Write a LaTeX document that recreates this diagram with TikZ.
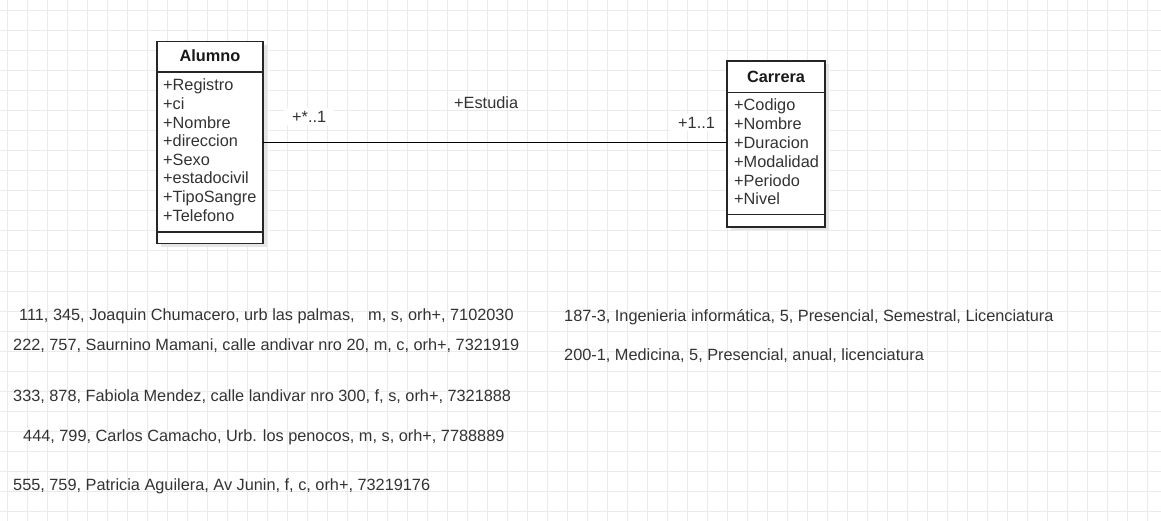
\documentclass[tikz,border=0pt]{standalone}
\usepackage{fontspec}
\setmainfont{Liberation Sans}
\begin{document}
\begin{tikzpicture}[x=1pt,y=-1pt,
  gridline/.style={draw=black!8,line width=1pt},
  umlbox/.style={rectangle,draw=black!85,line width=1.3pt,fill=white,inner sep=0pt,outer sep=0pt},
  divider/.style={draw=black!85,line width=1.3pt},
  shade/.style={fill=black!10},
  title/.style={anchor=base,inner sep=0pt,text=black!90,font=\fontsize{16.3pt}{18pt}\selectfont\bfseries},
  attr/.style={anchor=base west,inner sep=0pt,text=black!80,font=\fontsize{16.3pt}{18pt}\selectfont},
  edgelabel/.style={anchor=base west,inner xsep=0pt,inner ysep=0pt,text=black!80,font=\fontsize{16.3pt}{18pt}\selectfont},
  bglabel/.style={edgelabel,fill=white,inner xsep=8pt,inner ysep=3pt},
  record/.style={anchor=base west,inner sep=0pt,text=black!80,font=\fontsize{16.3pt}{18pt}\selectfont},
  assoc/.style={draw=black,line width=1.3pt}
]
% page
\useasboundingbox (0,0) rectangle (1161,521);
\fill[white] (0,0) rectangle (1161,521);
% grid
\foreach \x in {7,27,...,1161} \draw[gridline] (\x,0) -- (\x,521);
\foreach \y in {11,31,...,521} \draw[gridline] (0,\y) -- (1161,\y);

% shadows
\fill[shade] (160.5,45) rectangle (266.5,247);
\fill[shade] (730.5,64.5) rectangle (828.5,230.5);

% Alumno class
\node[umlbox,minimum width=106pt,minimum height=202pt] (alumno) at (210,142.5) {};
\draw[divider] (157,72) -- (263,72);
\draw[divider] (157,232) -- (263,232);
\node[title] (alumnoT) at (210,61.7) {Alumno};
\foreach \t [count=\i] in {Registro,ci,Nombre,direccion,Sexo,estadocivil,TipoSangre,Telefono}
  \node[attr] (a\i) at (163,{91+18.6*(\i-1)}) {+\t};

% Carrera class
\node[umlbox,minimum width=98pt,minimum height=166pt] (carrera) at (776,144) {};
\draw[divider] (727,92.3) -- (825,92.3);
\draw[divider] (727,214.5) -- (825,214.5);
\node[title] (carreraT) at (776,82.3) {Carrera};
\foreach \t [count=\i] in {Codigo,Nombre,Duracion,Modalidad,Periodo,Nivel}
  \node[attr] (c\i) at (734,{111+18.8*(\i-1)}) {+\t};

% association
\draw[assoc] (alumno.east) -- (carrera.west |- alumno.east);
\node[bglabel] (multA) at (284,122.3) {+*..1};
\node[edgelabel] (role) at (454,109) {+Estudia};
\node[bglabel] (multC) at (670,128.3) {+1..1};

% records
\node[record] (r1) at (19,320.7) {111, 345, Joaquin Chumacero, urb las palmas,\hspace{13.5pt}m, s, orh+, 7102030};
\node[record] (r2) at (13,350.7) {222, 757, Saurnino Mamani, calle andivar nro 20, m, c, orh+, 7321919};
\node[record] (r3) at (13,401) {333, 878, Fabiola Mendez, calle landivar nro 300, f, s, orh+, 7321888};
\node[record] (r4) at (23,441) {444, 799, Carlos Camacho, Urb. los penocos, m, s, orh+, 7788889};
\node[record] (r5) at (13,490) {555, 759, Patricia Aguilera, Av Junin, f, c, orh+, 73219176};
\node[record] (r6) at (564,321) {187-3, Ingenieria informática, 5, Presencial, Semestral, Licenciatura};
\node[record] (r7) at (564,360) {200-1, Medicina, 5, Presencial, anual, licenciatura};
\end{tikzpicture}
\end{document}
